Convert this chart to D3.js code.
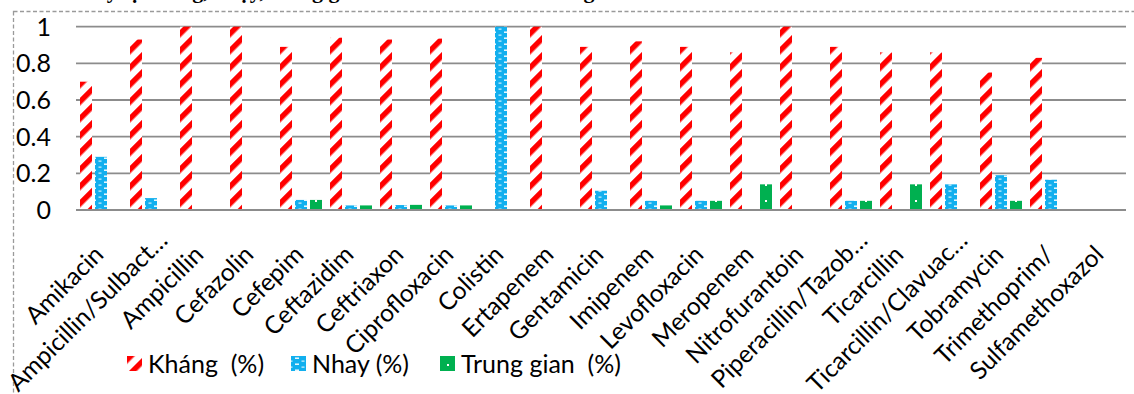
<!DOCTYPE html>
<html>
<head>
<meta charset="utf-8">
<script src="https://cdn.jsdelivr.net/npm/d3@7"></script>
<style>
  html, body { margin: 0; padding: 0; background: #fff; overflow: hidden; }
  svg { display: block; }
</style>
</head>
<body>
<svg id="chart" width="1134" height="394"></svg>
<script>
// ---- data ----
const categories = ["Amikacin", "Ampicillin/Sulbact…", "Ampicillin", "Cefazolin", "Cefepim",
  "Ceftazidim", "Ceftriaxon", "Ciprofloxacin", "Colistin", "Ertapenem", "Gentamicin",
  "Imipenem", "Levofloxacin", "Meropenem", "Nitrofurantoin", "Piperacillin/Tazob…",
  "Ticarcillin", "Ticarcillin/Clavuac…", "Tobramycin", "Trimethoprim/", "Sulfamethoxazol"];
const seriesNames = ["Kháng  (%)", "Nhay (%)", "Trung gian  (%)"];
const khang     = [0.70, 0.93, 1.00, 1.00, 0.89, 0.94, 0.93, 0.935, 0, 1.00, 0.89, 0.92, 0.89, 0.86, 1.00, 0.89, 0.86, 0.86, 0.75, 0.83, null];
const nhay      = [0.29, 0.065, 0, 0, 0.055, 0.025, 0.027, 0.025, 1.00, 0, 0.105, 0.05, 0.05, 0, 0, 0.05, 0, 0.14, 0.19, 0.165, null];
const trungGian = [0, 0, 0, 0, 0.055, 0.025, 0.028, 0.025, 0, 0, 0, 0.025, 0.05, 0.14, 0, 0.05, 0.14, 0, 0.05, 0, null];
const yTicks = [0, 0.2, 0.4, 0.6, 0.8, 1];
const yTickLabels = ["0", "0.2", "0.4", "0.6", "0.8", "1"];
const titleText = "Tỷ lệ kháng, nhạy, trung gian của vi khuẩn với kháng sinh";

const seriesValues = [khang, nhay, trungGian];

// ---- layout ----
const svg = d3.select("#chart");
const font = "Lato, 'Open Sans', sans-serif";
const plot = { left: 76, right: 1126, top: 26.7, bottom: 210 };

const x = d3.scaleBand().domain(categories).range([plot.left, plot.right]).paddingInner(0).paddingOuter(0);
const x1 = d3.scaleBand().domain(seriesNames).range([4, 46]).paddingInner(0.2).paddingOuter(0);
const y = d3.scaleLinear().domain([0, 1]).range([plot.bottom, plot.top]);

// ---- patterns ----
const defs = svg.append("defs");
const pr = defs.append("pattern").attr("id", "pRed").attr("patternUnits", "userSpaceOnUse")
  .attr("width", 12).attr("height", 12).attr("patternTransform", "rotate(45)");
pr.append("rect").attr("width", 12).attr("height", 12).attr("fill", "#fff");
pr.append("rect").attr("x", 0).attr("width", 5.5).attr("height", 12).attr("fill", "#ff0000");
const pb = defs.append("pattern").attr("id", "pBlue").attr("patternUnits", "userSpaceOnUse")
  .attr("width", 12).attr("height", 6);
pb.append("rect").attr("width", 12).attr("height", 6).attr("fill", "#12afee");
pb.append("rect").attr("x", 4).attr("y", 1.5).attr("width", 4).attr("height", 1.4).attr("fill", "#fff");
pb.append("rect").attr("x", 0).attr("y", 4.6).attr("width", 1.5).attr("height", 1).attr("fill", "#fff");
pb.append("rect").attr("x", 10.5).attr("y", 4.6).attr("width", 1.5).attr("height", 1).attr("fill", "#fff");
const pg = defs.append("pattern").attr("id", "pGreen").attr("patternUnits", "userSpaceOnUse")
  .attr("width", 16).attr("height", 16);
pg.append("rect").attr("width", 16).attr("height", 16).attr("fill", "#00b050");
pg.append("rect").attr("x", 7).attr("y", 8).attr("width", 2).attr("height", 2).attr("fill", "#fff");
const fills = ["url(#pRed)", "url(#pBlue)", "url(#pGreen)"];

// ---- title (mostly cut off at the top) ----
svg.append("text").attr("x", 92).attr("y", -2)
  .attr("font-family", "'Liberation Serif', 'Times New Roman', serif")
  .attr("font-weight", "bold").attr("font-size", 22).attr("fill", "#000")
  .text(titleText);

// ---- dashed outer frame ----
svg.append("rect").attr("x", 13.5).attr("y", 11.5).attr("width", 1300).attr("height", 600)
  .attr("fill", "none").attr("stroke", "#9a9a9a").attr("stroke-width", 1.3)
  .attr("stroke-dasharray", "4,2.5");

// ---- gridlines ----
svg.append("g").selectAll("line").data(yTicks).join("line")
  .attr("x1", plot.left).attr("x2", plot.right)
  .attr("y1", d => y(d)).attr("y2", d => y(d))
  .attr("stroke", "#8c8c8c").attr("stroke-width", 1.8);

// ---- y tick labels ----
svg.append("g").selectAll("text").data(yTicks).join("text")
  .attr("x", 51).attr("y", d => y(d)).attr("dy", "0.36em")
  .attr("text-anchor", "end").attr("font-family", font).attr("font-size", 25).attr("fill", "#000")
  .text((d, i) => yTickLabels[i]);

// ---- bars ----
const groups = svg.append("g").selectAll("g").data(categories).join("g")
  .attr("transform", d => `translate(${x(d)},0)`);
groups.selectAll("rect")
  .data((c, ci) => seriesNames.map((s, si) => ({ s, si, v: seriesValues[si][ci] })).filter(d => d.v != null && d.v > 0))
  .join("rect")
  .attr("x", d => x1(d.s)).attr("width", x1.bandwidth())
  .attr("y", d => y(d.v)).attr("height", d => y(0) - y(d.v))
  .attr("fill", d => fills[d.si]);

svg.append("line").attr("x1", plot.left).attr("x2", plot.right)
  .attr("y1", y(0)).attr("y2", y(0)).attr("stroke", "#8c8c8c").attr("stroke-width", 1.8);

// ---- x labels (rotated -45°, text end at the category) ----
svg.append("g").selectAll("text").data(categories).join("text")
  .attr("transform", d => {
    const shift = d.endsWith("…") ? 14 : 0;
    return `translate(${x(d) + x.bandwidth() / 2 + 4 + shift},${256 - shift}) rotate(-45)`;
  })
  .attr("text-anchor", "end")
  .attr("font-family", font).attr("font-size", 24.5).attr("fill", "#000")
  .text(d => d);

// ---- legend ----
const legendX = [127, 291, 440];
const legend = svg.append("g").selectAll("g").data(seriesNames).join("g")
  .attr("transform", (d, i) => `translate(${legendX[i]},356)`);
legend.append("rect").attr("width", 15).attr("height", 15).attr("fill", (d, i) => fills[i]);
legend.append("text").attr("x", 21).attr("y", 8).attr("dy", "0.35em")
  .attr("font-family", font).attr("font-size", 25).attr("fill", "#000")
  .style("white-space", "pre")
  .text(d => d);
</script>
</body>
</html>
